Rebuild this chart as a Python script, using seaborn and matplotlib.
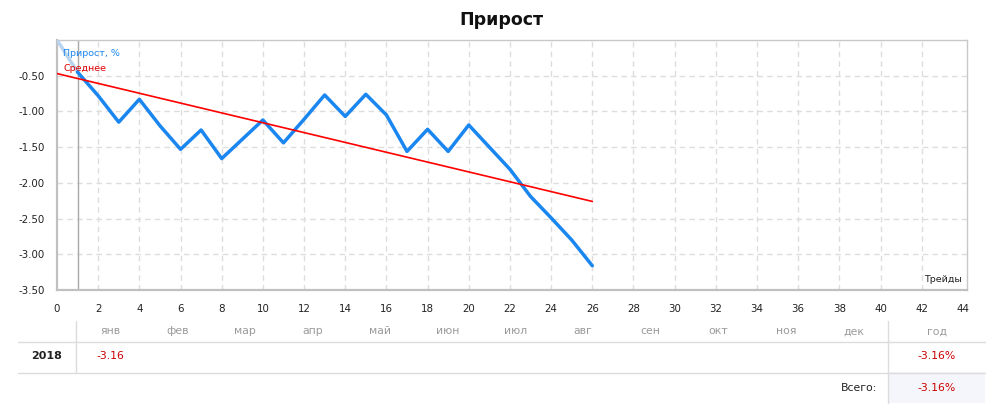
import matplotlib
matplotlib.use("Agg")
import matplotlib.pyplot as plt
import seaborn as sns
import pandas as pd
from matplotlib.lines import Line2D
from matplotlib.patches import Rectangle

sns.set_theme(style="white")
plt.rcParams['font.family'] = ['DejaVu Sans']

# ---- data ----
start_trade = [0, 1]
start_growth = [0.0, -0.45]
trades = list(range(1, 27))
growth = [-0.45, -0.78, -1.15, -0.83, -1.20, -1.53, -1.26, -1.66, -1.39, -1.12,
          -1.44, -1.11, -0.77, -1.07, -0.76, -1.05, -1.56, -1.25, -1.56, -1.19,
          -1.50, -1.81, -2.19, -2.49, -2.80, -3.16]
trend_x = [0, 26]
trend_y = [-0.47, -2.26]
x_ticks = list(range(0, 45, 2))
y_ticks = [-3.5, -3.0, -2.5, -2.0, -1.5, -1.0, -0.5]
months = ["янв", "фев", "мар", "апр", "май", "июн", "июл", "авг", "сен", "окт", "ноя", "дек"]
year_label = "2018"
month_values = ["-3.16"]
year_total = "-3.16%"
grand_total = "-3.16%"

W, H = 1008, 411
fig = plt.figure(figsize=(W / 100, H / 100), dpi=100)
ax = fig.add_axes([57 / W, 1 - 290 / H, (967 - 57) / W, (290 - 40) / H])

BLUE = "#1a86f0"
RED = "#ff0000"

df_start = pd.DataFrame({"x": start_trade, "y": start_growth})
df = pd.DataFrame({"x": trades, "y": growth})
df_tr = pd.DataFrame({"x": trend_x, "y": trend_y})

sns.lineplot(data=df_start, x="x", y="y", ax=ax, color="#b8d4ee", lw=2.5, zorder=3)
sns.lineplot(data=df, x="x", y="y", ax=ax, color=BLUE, lw=2.5, zorder=4)
sns.lineplot(data=df_tr, x="x", y="y", ax=ax, color=RED, lw=1.2, zorder=5)

ax.set_xlim(0, 44.2)
ax.set_ylim(-3.5, 0)
ax.set_xticks(x_ticks)
ax.set_yticks(y_ticks)
ax.set_yticklabels([f"{v:.2f}" for v in y_ticks])
ax.set_xlabel("")
ax.set_ylabel("")
ax.tick_params(axis="both", length=0, labelsize=7.4, colors="#222222")
ax.tick_params(axis="y", pad=9)
ax.tick_params(axis="x", pad=10)

for v in y_ticks[1:]:
    ax.axhline(v, color="#dddddd", lw=1, ls=(0, (4, 3)), zorder=1)
for v in x_ticks[1:-1]:
    ax.axvline(v, color="#dddddd", lw=1, ls=(0, (4, 3)), zorder=1)
ax.axvline(1, color="#a8a8a8", lw=1, zorder=2)

for s in ["left", "bottom"]:
    ax.spines[s].set_color("#c0c0c0")
    ax.spines[s].set_linewidth(1.6)
for s in ["top", "right"]:
    ax.spines[s].set_color("#c8c8c8")
    ax.spines[s].set_linewidth(1.0)

ax.text(0.007, 0.965, "Прирост, %", transform=ax.transAxes, color=BLUE, fontsize=6.8, va="top", ha="left")
ax.text(0.007, 0.905, "Среднее", transform=ax.transAxes, color="#e00000", fontsize=6.8, va="top", ha="left")
ax.text(0.995, 0.025, "Трейды", transform=ax.transAxes, color="#222222", fontsize=6.8, va="bottom", ha="right")

fig.text(501 / W, 1 - 20 / H, "Прирост", ha="center", va="center", fontsize=12.5, fontweight="bold", color="#111111")

# ---- table ----
def fy(y):
    return 1 - y / H

def fx(x):
    return x / W

line_c = "#dcdcdc"
fig.add_artist(Rectangle((fx(888), fy(403)), fx(985) - fx(888), fy(372) - fy(403),
                         transform=fig.transFigure, facecolor="#f5f6fb", edgecolor="none"))
for y in [341.5, 372.5]:
    fig.add_artist(Line2D([fx(18), fx(985)], [fy(y), fy(y)], transform=fig.transFigure, color=line_c, lw=1))
fig.add_artist(Line2D([fx(76), fx(76)], [fy(321), fy(372)], transform=fig.transFigure, color=line_c, lw=1))
fig.add_artist(Line2D([fx(888), fx(888)], [fy(321), fy(403)], transform=fig.transFigure, color=line_c, lw=1))

month_x0, month_dx = 110, 67.6
for i, m in enumerate(months):
    fig.text(fx(month_x0 + i * month_dx), fy(331.5), m, ha="center", va="center", fontsize=7.8, color="#9a9a9a")
fig.text(fx(937), fy(331.5), "год", ha="center", va="center", fontsize=7.8, color="#9a9a9a")

fig.text(fx(47), fy(356), year_label, ha="center", va="center", fontsize=8, fontweight="bold", color="#222222")
for i, v in enumerate(month_values):
    fig.text(fx(month_x0 + i * month_dx), fy(356), v, ha="center", va="center", fontsize=7.8, color="#cc0000")
fig.text(fx(937), fy(356), year_total, ha="center", va="center", fontsize=7.8, color="#cc0000")
fig.text(fx(877), fy(387.5), "Всего:", ha="right", va="center", fontsize=7.8, color="#222222")
fig.text(fx(937), fy(387.5), grand_total, ha="center", va="center", fontsize=7.8, color="#cc0000")

fig.savefig("out.png", dpi=100)
